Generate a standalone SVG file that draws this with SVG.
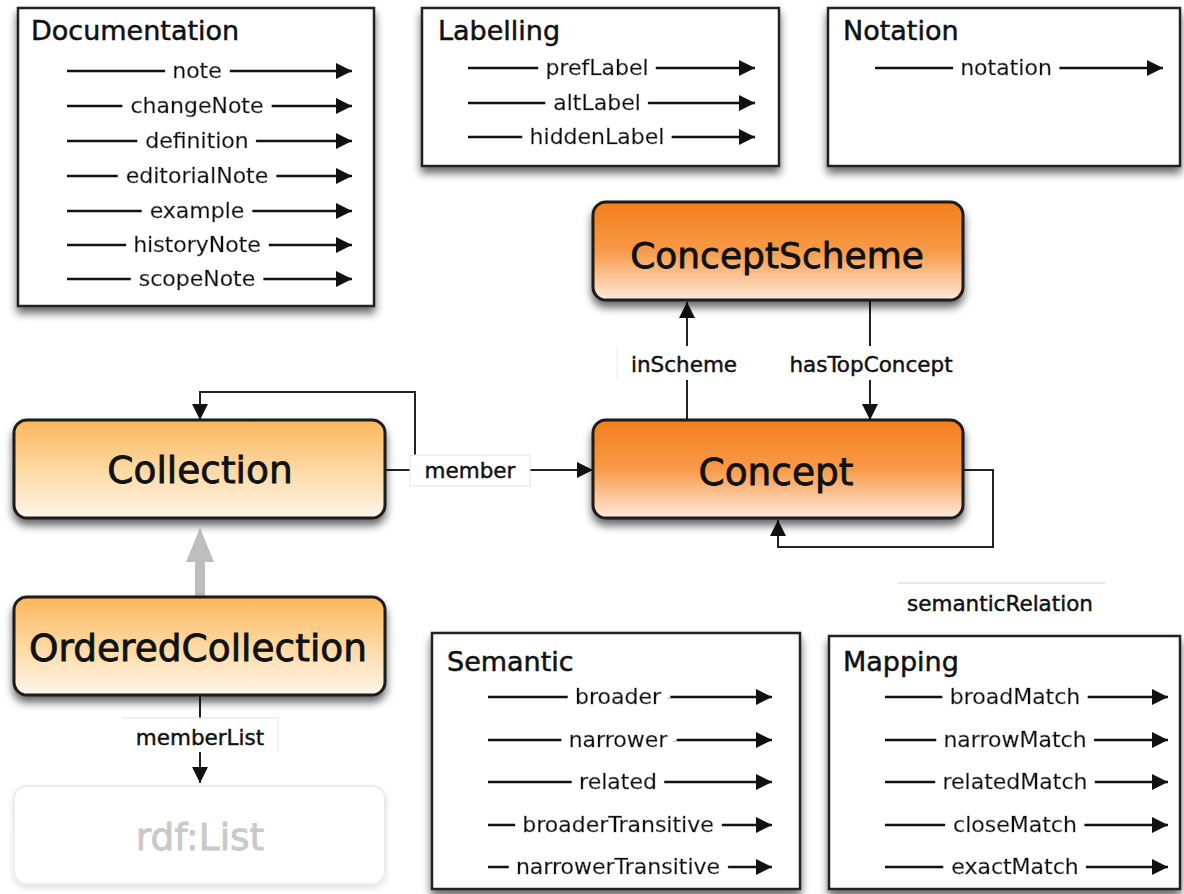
<svg xmlns="http://www.w3.org/2000/svg" width="1184" height="894" viewBox="0 0 1184 894">
<defs>
<linearGradient id="gDark" x1="0" y1="0" x2="0" y2="1">
<stop offset="0" stop-color="#f47e1c"/><stop offset="0.5" stop-color="#f89a48"/><stop offset="1" stop-color="#fdeadb"/>
</linearGradient>
<linearGradient id="gLight" x1="0" y1="0" x2="0" y2="1">
<stop offset="0" stop-color="#fab75c"/><stop offset="0.5" stop-color="#fdd8a2"/><stop offset="1" stop-color="#fff6ea"/>
</linearGradient>
<filter id="sh" x="-10%" y="-10%" width="120%" height="135%">
<feDropShadow dx="0" dy="6" stdDeviation="4.5" flood-color="#000" flood-opacity="0.6"/>
</filter>
<filter id="shl" x="-10%" y="-10%" width="120%" height="130%">
<feDropShadow dx="0" dy="3" stdDeviation="3" flood-color="#000" flood-opacity="0.12"/>
</filter>
<filter id="halo" x="-50%" y="-50%" width="200%" height="200%">
<feMorphology in="SourceAlpha" operator="dilate" radius="9 4" result="d"/>
<feFlood flood-color="#fff"/>
<feComposite in2="d" operator="in" result="w"/>
<feMerge><feMergeNode in="w"/><feMergeNode in="SourceGraphic"/></feMerge>
</filter>
<marker id="ahs" viewBox="0 0 10 10" refX="10" refY="5" markerWidth="20" markerHeight="16" markerUnits="userSpaceOnUse" orient="auto">
<path d="M0,0 L10,5 L0,10 z" fill="#111"/>
</marker>
</defs>
<style>
text{font-family:"DejaVu Sans","Liberation Sans",sans-serif;fill:#111;stroke:#111}
.title{font-size:27px;stroke-width:0.5}
.row{font-size:22px;text-anchor:middle;stroke-width:0.5}
.rl{stroke:#111;stroke-width:2.5;fill:none}
.box{fill:#fff;stroke:#222;stroke-width:2.5}
.node{stroke:#1a1a1a;stroke-width:3}
.big{font-size:37.5px;text-anchor:middle;stroke-width:0.8}
.conn{stroke:#222;stroke-width:2;fill:none}
.lbl{font-size:21.5px;text-anchor:middle;stroke-width:0.45}
.lbox{fill:#fff;stroke:#e4e4e4;stroke-width:1}
</style>

<g id="connectors">
<line class="conn" x1="385" y1="470" x2="593" y2="470" marker-end="url(#ahs)"/>
<polyline class="conn" points="415,456 415,392 200,392 200,420" marker-end="url(#ahs)"/>
<line class="conn" x1="687" y1="420" x2="687" y2="302" marker-end="url(#ahs)"/>
<line class="conn" x1="870" y1="300" x2="870" y2="420" marker-end="url(#ahs)"/>
<polyline class="conn" points="963,470 993,470 993,547 778,547 778,520" marker-end="url(#ahs)"/>
<rect fill="#bdbdbd" x="195" y="558" width="10" height="39"/>
<polygon fill="#bdbdbd" points="200,528 186,562 214,562"/>
<line class="conn" x1="200" y1="695" x2="200" y2="783" marker-end="url(#ahs)"/>
<rect class="lbox" x="410" y="455" width="120" height="31"/>
<text class="lbl" x="470" y="478">member</text>
<rect fill="#fff" x="617" y="346" width="130" height="34"/>
<line stroke="#eee" stroke-width="1" x1="617" y1="346" x2="617" y2="380"/>
<text class="lbl" x="684" y="372">inScheme</text>
<rect fill="#fff" x="784" y="346" width="176" height="34"/>
<text class="lbl" x="871" y="372">hasTopConcept</text>
<rect fill="#fff" x="122" y="718" width="156" height="34"/>
<line stroke="#e4e4e4" stroke-width="1" x1="122" y1="718" x2="278" y2="718"/>
<line stroke="#e4e4e4" stroke-width="1" x1="278" y1="718" x2="278" y2="752"/>
<text class="lbl" x="200" y="745">memberList</text>
<line stroke="#e0e0e0" stroke-width="1.5" x1="897" y1="583" x2="1105" y2="583"/>
<text class="lbl" x="1000" y="611">semanticRelation</text>
</g>

<g id="documentation">
<rect class="box" filter="url(#sh)" x="18" y="8" width="356" height="298"/>
<text class="title" x="31" y="40">Documentation</text>
<line class="rl" x1="67" y1="71" x2="352" y2="71" marker-end="url(#ahs)"/><text class="row" filter="url(#halo)" x="197" y="78">note</text>
<line class="rl" x1="67" y1="106" x2="352" y2="106" marker-end="url(#ahs)"/><text class="row" filter="url(#halo)" x="197" y="113">changeNote</text>
<line class="rl" x1="67" y1="141" x2="352" y2="141" marker-end="url(#ahs)"/><text class="row" filter="url(#halo)" x="197" y="148">definition</text>
<line class="rl" x1="67" y1="176" x2="352" y2="176" marker-end="url(#ahs)"/><text class="row" filter="url(#halo)" x="197" y="183">editorialNote</text>
<line class="rl" x1="67" y1="211" x2="352" y2="211" marker-end="url(#ahs)"/><text class="row" filter="url(#halo)" x="197" y="218">example</text>
<line class="rl" x1="67" y1="245" x2="352" y2="245" marker-end="url(#ahs)"/><text class="row" filter="url(#halo)" x="197" y="252">historyNote</text>
<line class="rl" x1="67" y1="279" x2="352" y2="279" marker-end="url(#ahs)"/><text class="row" filter="url(#halo)" x="197" y="286">scopeNote</text>
</g>

<g id="labelling">
<rect class="box" filter="url(#sh)" x="422" y="8" width="357" height="158"/>
<text class="title" x="438" y="40">Labelling</text>
<line class="rl" x1="468" y1="68" x2="755" y2="68" marker-end="url(#ahs)"/><text class="row" filter="url(#halo)" x="597" y="75">prefLabel</text>
<line class="rl" x1="468" y1="103" x2="755" y2="103" marker-end="url(#ahs)"/><text class="row" filter="url(#halo)" x="597" y="110">altLabel</text>
<line class="rl" x1="468" y1="137" x2="755" y2="137" marker-end="url(#ahs)"/><text class="row" filter="url(#halo)" x="597" y="144">hiddenLabel</text>
</g>

<g id="notation">
<rect class="box" filter="url(#sh)" x="828" y="8" width="352" height="158"/>
<text class="title" x="843" y="40">Notation</text>
<line class="rl" x1="875" y1="68" x2="1163" y2="68" marker-end="url(#ahs)"/><text class="row" filter="url(#halo)" x="1006" y="75">notation</text>
</g>

<g id="conceptscheme">
<rect class="node" filter="url(#sh)" fill="url(#gDark)" x="593" y="202" width="370" height="98" rx="13"/>
<text class="big" x="777" y="268" style="font-size:36px">ConceptScheme</text>
</g>

<g id="concept">
<rect class="node" filter="url(#sh)" fill="url(#gDark)" x="593" y="420" width="370" height="98" rx="13"/>
<text class="big" x="776" y="485">Concept</text>
</g>

<g id="collection">
<rect class="node" filter="url(#sh)" fill="url(#gLight)" x="14" y="420" width="371" height="98" rx="13"/>
<text class="big" x="200" y="483">Collection</text>
</g>

<g id="orderedcollection">
<rect class="node" filter="url(#sh)" fill="url(#gLight)" x="14" y="597" width="371" height="98" rx="13"/>
<text class="big" x="198" y="661">OrderedCollection</text>
</g>

<g id="rdflist">
<rect filter="url(#shl)" fill="#fff" stroke="#ececec" stroke-width="2" x="14" y="786" width="371" height="98" rx="13"/>
<text class="big" x="200" y="850" style="fill:#c9c9c9;stroke:#c9c9c9">rdf:List</text>
</g>

<g id="semantic">
<rect class="box" filter="url(#sh)" x="432" y="633" width="368" height="256"/>
<text class="title" x="447" y="671">Semantic</text>
<line class="rl" x1="488" y1="697" x2="772" y2="697" marker-end="url(#ahs)"/><text class="row" filter="url(#halo)" x="618" y="704">broader</text>
<line class="rl" x1="488" y1="740" x2="772" y2="740" marker-end="url(#ahs)"/><text class="row" filter="url(#halo)" x="618" y="747">narrower</text>
<line class="rl" x1="488" y1="782" x2="772" y2="782" marker-end="url(#ahs)"/><text class="row" filter="url(#halo)" x="618" y="789">related</text>
<line class="rl" x1="488" y1="825" x2="772" y2="825" marker-end="url(#ahs)"/><text class="row" filter="url(#halo)" x="618" y="832">broaderTransitive</text>
<line class="rl" x1="488" y1="867" x2="772" y2="867" marker-end="url(#ahs)"/><text class="row" filter="url(#halo)" x="618" y="874">narrowerTransitive</text>
</g>

<g id="mapping">
<rect class="box" filter="url(#sh)" x="829" y="636" width="351" height="253"/>
<text class="title" x="843" y="671">Mapping</text>
<line class="rl" x1="885" y1="697" x2="1168" y2="697" marker-end="url(#ahs)"/><text class="row" filter="url(#halo)" x="1015" y="704">broadMatch</text>
<line class="rl" x1="885" y1="740" x2="1168" y2="740" marker-end="url(#ahs)"/><text class="row" filter="url(#halo)" x="1015" y="747">narrowMatch</text>
<line class="rl" x1="885" y1="782" x2="1168" y2="782" marker-end="url(#ahs)"/><text class="row" filter="url(#halo)" x="1015" y="789">relatedMatch</text>
<line class="rl" x1="885" y1="825" x2="1168" y2="825" marker-end="url(#ahs)"/><text class="row" filter="url(#halo)" x="1015" y="832">closeMatch</text>
<line class="rl" x1="885" y1="867" x2="1168" y2="867" marker-end="url(#ahs)"/><text class="row" filter="url(#halo)" x="1015" y="874">exactMatch</text>
</g>
</svg>
